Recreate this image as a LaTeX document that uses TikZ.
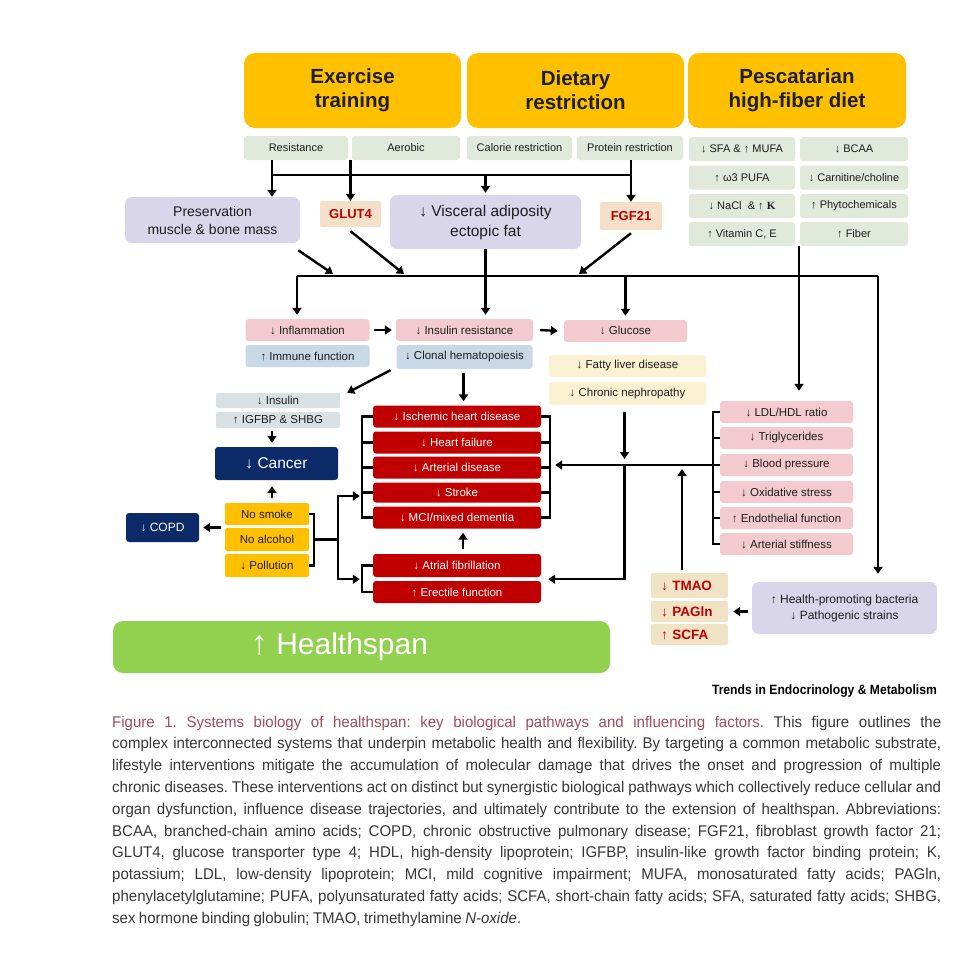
\documentclass[tikz,border=0pt]{standalone}
\usepackage{fontspec}
\setmainfont{Liberation Sans}
\newfontfamily\capfont[FakeStretch=0.97]{Liberation Sans}
\newfontfamily\trendfont[FakeStretch=0.9]{Liberation Sans}
\newfontfamily\kfont{Liberation Serif}
\newcommand\capsetup{\capfont\fontsize{15.5}{20}\selectfont\frenchspacing\spaceskip=0.22em plus 2em minus 0.08em\relax}
\usetikzlibrary{arrows.meta,calc}
\definecolor{gold}{HTML}{FFC000}
\definecolor{sage}{HTML}{E0E9DA}
\definecolor{lavc}{HTML}{D9D5EA}
\definecolor{tanc}{HTML}{F4E0C8}
\definecolor{pinkc}{HTML}{F3CACD}
\definecolor{bluec}{HTML}{C8D8E7}
\definecolor{grayc}{HTML}{D9E1E4}
\definecolor{yelc}{HTML}{FAF1D3}
\definecolor{redc}{HTML}{C00000}
\definecolor{navyc}{HTML}{0C2A68}
\definecolor{grnc}{HTML}{92D050}
\definecolor{tmaoc}{HTML}{F1E3C6}
\definecolor{redt}{HTML}{C00000}
\definecolor{rosec}{HTML}{A24D5C}
\definecolor{captxt}{HTML}{383838}
\definecolor{txt}{HTML}{1E1E1E}
\tikzset{
  base/.style={inner sep=0pt, align=center, text=txt},
  hdr/.style={base, fill=gold, rounded corners=11pt, minimum width=217pt, minimum height=75pt, font=\fontsize{20.5}{24}\selectfont\bfseries},
  sub/.style={base, fill=sage, rounded corners=3pt, minimum height=24pt, font=\fontsize{11}{13}\selectfont},
  lav/.style={base, fill=lavc, rounded corners=7pt},
  tanbox/.style={base, fill=tanc, rounded corners=2pt, font=\fontsize{13}{15}\selectfont\bfseries, text=redt},
  pk/.style={base, fill=pinkc, rounded corners=3pt, minimum height=22pt, font=\fontsize{11.5}{13}\selectfont},
  bl/.style={base, fill=bluec, rounded corners=3pt, minimum height=22pt, font=\fontsize{11.5}{13}\selectfont},
  gy/.style={base, fill=grayc, rounded corners=2pt, minimum width=124pt, font=\fontsize{11.5}{13}\selectfont},
  ye/.style={base, fill=yelc, rounded corners=3pt, minimum width=157pt, minimum height=22pt, font=\fontsize{11.5}{13}\selectfont},
  rd/.style={base, fill=redc, rounded corners=3pt, minimum width=168pt, minimum height=22pt, text=white, font=\fontsize{11.5}{13}\selectfont},
  og/.style={base, fill=gold, rounded corners=2pt, minimum width=84pt, minimum height=23pt, font=\fontsize{11.5}{13}\selectfont},
  nv/.style={base, fill=navyc, rounded corners=3pt, text=white},
  tm/.style={base, fill=tmaoc, rounded corners=2pt, minimum width=77pt, text width=57pt, align=left, font=\fontsize{13.5}{15}\selectfont\bfseries, text=redt},
  ln/.style={line width=2.4pt},
  arr/.style={line width=2.4pt, -{Triangle[length=7pt,width=9pt]}},
  capl/.style={anchor=base west, inner sep=0pt, text=captxt, font=\capsetup},
}
\begin{document}
\begin{tikzpicture}[x=1pt,y=-1pt]
\useasboundingbox[fill=white] (0,0) rectangle (960,958);

% headers
\node[hdr] (ex) at (352.5,90.5) {Exercise\\training};
\node[hdr] (dr) at (575.5,90.5) {Dietary\\restriction};
\node[hdr, minimum width=218pt] (pe) at (797,90.5) {Pescatarian\\high-fiber diet};

% sub labels
\node[sub, minimum width=104pt] (res) at (296,148) {Resistance};
\node[sub, minimum width=108pt] (aer) at (406,148) {Aerobic};
\node[sub, minimum width=105pt] (cal) at (519.5,148) {Calorie restriction};
\node[sub, minimum width=106pt] (pro) at (630,148) {Protein restriction};
\node[sub, minimum width=106pt] (sfa) at (742,149) {↓ SFA \& ↑ MUFA};
\node[sub, minimum width=108pt] (bca) at (854,149) {↓ BCAA};
\node[sub, minimum width=106pt] (w3) at (742,177.5) {↑ ω3 PUFA};
\node[sub, minimum width=108pt] (car) at (854,177.5) {↓ Carnitine/choline};
\node[sub, minimum width=106pt] (nac) at (742,206) {↓ NaCl \ \& ↑ {\kfont\bfseries K}};
\node[sub, minimum width=108pt] (phy) at (854,206) {↑ Phytochemicals};
\node[sub, minimum width=106pt] (vit) at (742,234) {↑ Vitamin C, E};
\node[sub, minimum width=108pt] (fib) at (854,234) {↑ Fiber};

% second level
\node[lav, minimum width=175pt, minimum height=46pt, font=\fontsize{14}{18}\selectfont] (pres) at (212.5,220) {Preservation\\muscle \& bone mass};
\node[tanbox, minimum width=61pt, minimum height=26pt] (glut) at (350.5,214) {GLUT4};
\node[lav, minimum width=191pt, minimum height=54pt, font=\fontsize{15.5}{20}\selectfont] (visc) at (485.5,222) {↓ Visceral adiposity\\ectopic fat};
\node[tanbox, minimum width=62pt, minimum height=28pt] (fgf) at (631,216) {FGF21};

% row 2
\node[pk, minimum width=124pt] (infl) at (307.5,330) {↓ Inflammation};
\node[bl, minimum width=124pt] (imm) at (307.5,356) {↑ Immune function};
\node[pk, minimum width=137pt] (isr) at (464.5,330) {↓ Insulin resistance};
\node[bl, minimum width=136pt, minimum height=24pt] (clo) at (464.5,357) {↓ Clonal hematopoiesis};
\node[pk, minimum width=123pt] (glu) at (625.5,331) {↓ Glucose};
\node[ye] (fat) at (627.5,366) {↓ Fatty liver disease};
\node[ye, minimum height=23pt] (chr) at (627.5,393.5) {↓ Chronic nephropathy};

% left column
\node[gy, minimum height=15pt] (ins) at (278,400.5) {↓ Insulin};
\node[gy, minimum height=16pt] (igf) at (278,420) {↑ IGFBP \& SHBG};
\node[nv, minimum width=123pt, minimum height=33pt, font=\fontsize{15.5}{18}\selectfont] (canc) at (276.5,463.5) {↓ Cancer};
\node[og, minimum height=22pt] (nsm) at (267,514) {No smoke};
\node[og] (nal) at (267,539.5) {No alcohol};
\node[og] (pol) at (267,565.5) {↓ Pollution};
\node[nv, minimum width=73pt, minimum height=29pt, font=\fontsize{12}{14}\selectfont] (copd) at (162.5,527.5) {↓ COPD};

% red column
\node[rd] (ihd) at (457,416.5) {↓ Ischemic heart disease};
\node[rd] (hf) at (457,442.5) {↓ Heart failure};
\node[rd] (ad) at (457,467.5) {↓ Arterial disease};
\node[rd, minimum height=20pt] (str) at (457,492.5) {↓ Stroke};
\node[rd] (mci) at (457,517.5) {↓ MCI/mixed dementia};
\node[rd, minimum height=23pt] (af) at (457,565.5) {↓ Atrial fibrillation};
\node[rd] (ef) at (457,592) {↑ Erectile function};

% pink column
\node[pk, minimum width=133pt] (ldl) at (786.5,412) {↓ LDL/HDL ratio};
\node[pk, minimum width=133pt] (tri) at (786.5,438) {↓ Triglycerides};
\node[pk, minimum width=133pt] (bp) at (786.5,465) {↓ Blood pressure};
\node[pk, minimum width=133pt] (ox) at (786.5,492) {↓ Oxidative stress};
\node[pk, minimum width=133pt] (endo) at (786.5,518) {↑ Endothelial function};
\node[pk, minimum width=133pt] (ast) at (786.5,544) {↓ Arterial stiffness};

% bottom right
\node[tm, minimum height=25pt] (tmao) at (689.5,585.5) {↓ TMAO};
\node[tm, minimum height=21pt] (pag) at (689.5,611.5) {↓ PAGln};
\node[tm, minimum height=21pt] (scf) at (689.5,634.5) {↑ SCFA};
\node[lav, minimum width=185pt, minimum height=52pt, font=\fontsize{12}{16}\selectfont] (hea) at (844.5,608) {↑ Health-promoting bacteria\\↓ Pathogenic strains};

% healthspan
\node[base, fill=grnc, rounded corners=10pt, minimum width=497pt, minimum height=52pt, text=white, font=\fontsize{30}{36}\selectfont] (hs) at (361.5,647) {{\fontsize{34}{36}\selectfont\bfseries ↑} Healthspan\hspace*{44pt}};

\node[anchor=base east, inner sep=0pt, text=black, font=\trendfont\bfseries\fontsize{13.5}{15}\selectfont] (tr) at (937,694) {Trends in Endocrinology \& Metabolism};

% ---------- connectors ----------
\coordinate (tb) at (0,175);
\draw[arr] ([xshift=-24]res.south) -- ([xshift=-24]res.south |- pres.north);
\draw[arr] (aer.south -| glut.north) -- (glut.north);
\draw[ln] ([xshift=-24]res.south |- tb) -- (fgf.north |- tb);
\draw[arr] (pro.south -| fgf.north) -- (fgf.north);
\draw[arr, shorten >=2pt] (visc.north |- tb) -- (visc.north);

\coordinate (busL) at (297,276);
\coordinate (busR) at (878,276);
\coordinate (d1) at (333,274);
\coordinate (d2) at (404,274);
\coordinate (d3) at (579,274);
\draw[arr] ([xshift=-2,yshift=-7]pres.south east) -- (d1);
\draw[arr] ([yshift=-4]glut.south) -- (d2);
\draw[arr] ([yshift=-3]fgf.south) -- (d3);
\draw[ln] (busL) -- (busR);
\draw[arr, shorten >=4pt] (busL) -- (busL |- infl.north);
\draw[arr, shorten >=4pt] (visc.south) -- (visc.south |- isr.north);
\draw[arr, shorten >=4pt] (glu.north |- busL) -- (glu.north);
\draw[arr, shorten >=8pt] (busR) -- (busR |- hea.north);
\draw[arr, shorten >=10pt] ([xshift=-55]fib.south) -- ([xshift=-55]fib.south |- ldl.north);

\draw[arr] ([xshift=4]infl.east) -- ([xshift=-4]isr.west);
\draw[arr] ([xshift=7]isr.east) -- ([xshift=-6]glu.west);
\draw[arr] ([xshift=-74,yshift=-1]clo.south) -- ([xshift=7]ins.north east);
\draw[arr, shorten <=4pt, shorten >=4pt] ([xshift=-1]clo.south) -- ([xshift=-1]clo.south |- ihd.north);

\draw[arr, shorten <=3pt, shorten >=4pt] ([xshift=-6]igf.south) -- ([xshift=-6]igf.south |- canc.north);
\draw[arr, shorten <=5pt, shorten >=6pt] ([xshift=5]nsm.north) -- ([xshift=5]nsm.north |- canc.south);
\draw[arr, shorten <=4pt, shorten >=4pt] (nsm.south west |- copd.east) -- (copd.east);

% lifestyle bracket
\draw[ln] (nsm.east) -- ++(5,0) |- (pol.east);
\coordinate (lj) at ([xshift=29]nal.east);
\draw[ln] ([xshift=5]nal.east) -- (lj);
\draw[arr] (lj) |- ([xshift=-13,yshift=-3.5]str.west);
\draw[arr] (lj) |- ([xshift=-13,yshift=-2]af.south west);

% red brackets
\draw[ln] (ihd.west) -- ++(-11,0) |- (mci.west);
\foreach \n in {hf,ad,str} \draw[ln] (\n.west) -- ++(-11,0);
\draw[ln] (ihd.east) -- ++(9,0) |- (mci.east);
\foreach \n in {hf,ad,str} \draw[ln] (\n.east) -- ++(9,0);
\draw[ln] (af.west) -- ++(-11,0) |- (ef.west);
\draw[arr, shorten <=5pt, shorten >=4pt] ([xshift=6]af.north) -- ([xshift=6]mci.south);

% pink bracket
\draw[ln] (ldl.west) -- ++(-7,0) |- (ast.west);
\foreach \n in {tri,bp,ox,endo} \draw[ln] (\n.west) -- ++(-7,0);
\draw[arr] ([xshift=-7]bp.west) -- ([xshift=14]ad.east |- bp.west);

% nephropathy
\draw[arr, shorten <=7pt, shorten >=6pt] ([xshift=-3]chr.south) -- ([xshift=-3]chr.south |- bp.west);
\draw[arr] ([xshift=-3]chr.south |- bp.west) |- ([xshift=7,yshift=-2]af.south east);

% TMAO
\draw[arr, shorten <=3pt, shorten >=4pt] ([xshift=-7.5]tmao.north) -- ([xshift=-7.5]tmao.north |- bp.west);
\draw[arr, shorten <=4pt, shorten >=5pt] (hea.west |- pag.east) -- (pag.east);

% caption
\node[capl] (cap1) at (112,727) {\hbox to 829pt{{\color{rosec}Figure 1. Systems biology of healthspan: key biological pathways and influencing factors.} This figure outlines the}};
\node[capl] (cap2) at (112,748.8) {\hbox to 829pt{complex interconnected systems that underpin metabolic health and flexibility. By targeting a common metabolic substrate,}};
\node[capl] (cap3) at (112,770.6) {\hbox to 829pt{lifestyle interventions mitigate the accumulation of molecular damage that drives the onset and progression of multiple}};
\node[capl] (cap4) at (112,792.4) {\hbox to 829pt{chronic diseases. These interventions act on distinct but synergistic biological pathways which collectively reduce cellular and}};
\node[capl] (cap5) at (112,814.2) {\hbox to 829pt{organ dysfunction, influence disease trajectories, and ultimately contribute to the extension of healthspan. Abbreviations:}};
\node[capl] (cap6) at (112,836) {\hbox to 829pt{BCAA, branched-chain amino acids; COPD, chronic obstructive pulmonary disease; FGF21, fibroblast growth factor 21;}};
\node[capl] (cap7) at (112,857.8) {\hbox to 829pt{GLUT4, glucose transporter type 4; HDL, high-density lipoprotein; IGFBP, insulin-like growth factor binding protein; K,}};
\node[capl] (cap8) at (112,879.6) {\hbox to 829pt{potassium; LDL, low-density lipoprotein; MCI, mild cognitive impairment; MUFA, monosaturated fatty acids; PAGln,}};
\node[capl] (cap9) at (112,901.4) {\hbox to 829pt{phenylacetylglutamine; PUFA, polyunsaturated fatty acids; SCFA, short-chain fatty acids; SFA, saturated fatty acids; SHBG,}};
\node[capl] (cap10) at (112,923.2) {sex hormone binding globulin; TMAO, trimethylamine \textit{N-oxide}.};
\end{tikzpicture}
\end{document}
